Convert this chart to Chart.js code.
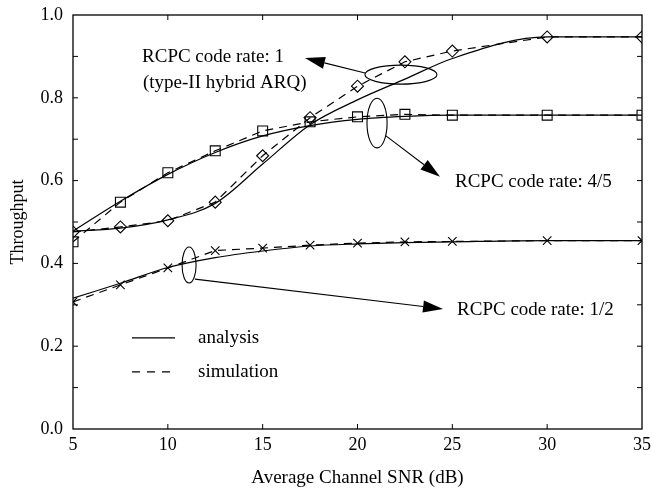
<!DOCTYPE html>
<html>
<head>
<meta charset="utf-8">
<script src="https://cdn.jsdelivr.net/npm/chart.js@4.4.1/dist/chart.umd.min.js"></script>
<style>
  html, body { margin: 0; padding: 0; background: #fff; }
  canvas { display: block; }
</style>
</head>
<body>
<canvas id="chart" width="652" height="489"></canvas>
<script>
// Average channel SNR (dB) at which throughput was evaluated
const snr = [5, 7.5, 10, 12.5, 15, 17.5, 20, 22.5, 25, 30, 35];

// RCPC code rate 1 (type-II hybrid ARQ)
const rate1Analysis   = [0.478, 0.485, 0.505, 0.545, 0.640, 0.735, 0.795, 0.845, 0.895, 0.947, 0.947];
const rate1Simulation = [0.476, 0.488, 0.503, 0.548, 0.660, 0.752, 0.828, 0.887, 0.913, 0.947, 0.947];

// RCPC code rate 4/5
const rate45Analysis   = [0.478, 0.550, 0.615, 0.668, 0.708, 0.733, 0.748, 0.755, 0.758, 0.758, 0.758];
const rate45Simulation = [0.452, 0.548, 0.619, 0.672, 0.720, 0.742, 0.754, 0.760, 0.758, 0.758, 0.758];

// RCPC code rate 1/2
const rate12Analysis   = [0.316, 0.352, 0.390, 0.414, 0.430, 0.442, 0.447, 0.450, 0.452, 0.455, 0.455];
const rate12Simulation = [0.307, 0.348, 0.389, 0.431, 0.437, 0.444, 0.449, 0.452, 0.453, 0.455, 0.455];

// Axis tick labels
const xTickLabels = ['5', '10', '15', '20', '25', '30', '35'];
const yTickLabels = ['0.0', '0.2', '0.4', '0.6', '0.8', '1.0'];

const SERIF = '"Liberation Serif", "Times New Roman", serif';
const INK = '#000';

const toPoints = (ys) => snr.map((x, i) => ({ x, y: ys[i] }));

function analysisSet(label, ys) {
  return {
    label, data: toPoints(ys),
    borderColor: INK, borderWidth: 1.2,
    pointRadius: 0, pointHoverRadius: 0,
    cubicInterpolationMode: 'monotone', fill: false
  };
}
function simulationSet(label, ys, style, radius) {
  return {
    label, data: toPoints(ys),
    borderColor: INK, borderWidth: 1.2, borderDash: [8, 6],
    tension: 0, fill: false,
    pointStyle: style, pointRadius: radius, pointHoverRadius: radius,
    pointBorderColor: INK, pointBorderWidth: 1.1,
    pointBackgroundColor: 'rgba(0,0,0,0)'
  };
}

// Call-outs, placed in data units (dB, throughput)
const callouts = {
  ellipses: [
    { x: 22.29, y: 0.856, rx: 1.90, ry: 0.023 },
    { x: 21.03, y: 0.739, rx: 0.53, ry: 0.060 },
    { x: 11.12, y: 0.396, rx: 0.37, ry: 0.0435 }
  ],
  arrows: [
    { from: [20.40, 0.860], to: [17.23, 0.896] },
    { from: [21.50, 0.708], to: [24.35, 0.609] },
    { from: [11.43, 0.362], to: [24.51, 0.290] }
  ],
  texts: [
    { x: 8.64, y: 0.899, text: 'RCPC code rate: 1' },
    { x: 8.69, y: 0.836, text: '(type-II hybrid ARQ)' },
    { x: 25.14, y: 0.597, text: 'RCPC code rate: 4/5' },
    { x: 25.25, y: 0.287, text: 'RCPC code rate: 1/2' }
  ],
  legend: [
    { x0: 8.11, x1: 10.38, tx: 11.59, y: 0.220, dash: [], text: 'analysis' },
    { x0: 8.11, x1: 10.38, tx: 11.59, y: 0.138, dash: [8, 7], text: 'simulation' }
  ]
};

const whiteBackground = {
  id: 'whiteBackground',
  beforeDraw(chart) {
    const { ctx } = chart;
    ctx.save();
    ctx.fillStyle = '#fff';
    ctx.fillRect(0, 0, chart.width, chart.height);
    ctx.restore();
  }
};

// Box frame with inward-pointing tick marks on all four sides
const frameTicks = {
  id: 'frameTicks',
  afterDatasetsDraw(chart) {
    const { ctx, chartArea: a, scales: { x, y } } = chart;
    ctx.save();
    ctx.strokeStyle = INK;
    ctx.lineWidth = 1.3;
    ctx.strokeRect(a.left, a.top, a.right - a.left, a.bottom - a.top);
    ctx.lineWidth = 1;
    ctx.beginPath();
    for (let k = 1; k < 10; k++) {
      const py = y.getPixelForValue(k / 10);
      ctx.moveTo(a.left, py); ctx.lineTo(a.left + 5, py);
      ctx.moveTo(a.right, py); ctx.lineTo(a.right - 5, py);
    }
    for (let v = 10; v < 35; v += 5) {
      const px = x.getPixelForValue(v);
      ctx.moveTo(px, a.bottom); ctx.lineTo(px, a.bottom - 5);
      ctx.moveTo(px, a.top); ctx.lineTo(px, a.top + 5);
    }
    ctx.stroke();
    ctx.restore();
  }
};

const annotations = {
  id: 'annotations',
  afterDatasetsDraw(chart) {
    const { ctx, scales: { x, y } } = chart;
    const X = (v) => x.getPixelForValue(v);
    const Y = (v) => y.getPixelForValue(v);
    const sx = X(1) - X(0);
    const sy = Y(0) - Y(1);
    ctx.save();
    ctx.strokeStyle = INK;
    ctx.fillStyle = INK;
    ctx.lineWidth = 1.1;

    callouts.ellipses.forEach((e) => {
      ctx.beginPath();
      ctx.ellipse(X(e.x), Y(e.y), e.rx * sx, e.ry * sy, 0, 0, Math.PI * 2);
      ctx.stroke();
    });

    callouts.arrows.forEach((ar) => {
      const x0 = X(ar.from[0]), y0 = Y(ar.from[1]);
      const x1 = X(ar.to[0]), y1 = Y(ar.to[1]);
      const ang = Math.atan2(y1 - y0, x1 - x0);
      const len = 20, half = 6;
      const bx = x1 - len * Math.cos(ang), by = y1 - len * Math.sin(ang);
      ctx.beginPath();
      ctx.moveTo(x0, y0); ctx.lineTo(bx, by);
      ctx.stroke();
      ctx.beginPath();
      ctx.moveTo(x1, y1);
      ctx.lineTo(bx + half * Math.sin(ang), by - half * Math.cos(ang));
      ctx.lineTo(bx - half * Math.sin(ang), by + half * Math.cos(ang));
      ctx.closePath();
      ctx.fill();
    });

    ctx.font = '19px ' + SERIF;
    ctx.textAlign = 'left';
    ctx.textBaseline = 'middle';
    callouts.texts.forEach((t) => ctx.fillText(t.text, X(t.x), Y(t.y)));

    callouts.legend.forEach((l) => {
      ctx.save();
      ctx.lineWidth = 1.2;
      ctx.setLineDash(l.dash);
      ctx.beginPath();
      ctx.moveTo(X(l.x0), Y(l.y)); ctx.lineTo(X(l.x1), Y(l.y));
      ctx.stroke();
      ctx.restore();
      ctx.fillText(l.text, X(l.tx), Y(l.y));
    });
    ctx.restore();
  }
};

new Chart(document.getElementById('chart'), {
  type: 'line',
  data: {
    datasets: [
      analysisSet('Rate 1 analysis', rate1Analysis),
      simulationSet('Rate 1 simulation', rate1Simulation, 'rectRot', 6),
      analysisSet('Rate 4/5 analysis', rate45Analysis),
      simulationSet('Rate 4/5 simulation', rate45Simulation, 'rect', 7),
      analysisSet('Rate 1/2 analysis', rate12Analysis),
      simulationSet('Rate 1/2 simulation', rate12Simulation, 'crossRot', 6)
    ]
  },
  options: {
    responsive: false,
    animation: false,
    events: [],
    layout: { padding: { top: 15, right: 10, left: 0, bottom: 0 } },
    plugins: { legend: { display: false }, tooltip: { enabled: false } },
    scales: {
      x: {
        type: 'linear', min: 5, max: 35,
        grid: { display: false, drawTicks: false },
        border: { display: false },
        afterFit(scale) {
          scale.height = 60;
          scale.paddingLeft = 0;
          scale.paddingRight = 0;
        },
        ticks: {
          stepSize: 5, autoSkip: false, maxRotation: 0, padding: 5,
          color: INK, font: { family: SERIF, size: 18 },
          callback: (v) => xTickLabels[Math.round((v - 5) / 5)] ?? ''
        },
        title: {
          display: true, text: 'Average Channel SNR (dB)', color: INK,
          font: { family: SERIF, size: 19 }, padding: { top: 0, bottom: 0 }
        }
      },
      y: {
        type: 'linear', min: 0, max: 1,
        grid: { display: false, drawTicks: false },
        border: { display: false },
        afterFit(scale) {
          scale.width = 73;
          scale.paddingTop = 0;
          scale.paddingBottom = 0;
        },
        ticks: {
          stepSize: 0.1, autoSkip: false, padding: 10,
          color: INK, font: { family: SERIF, size: 18 },
          callback: (v) => {
            const k = Math.round(v * 10);
            return k % 2 === 0 ? yTickLabels[k / 2] : '';
          }
        },
        title: {
          display: true, text: 'Throughput', color: INK,
          font: { family: SERIF, size: 18 }, padding: { top: 7, bottom: 0 }
        }
      }
    }
  },
  plugins: [whiteBackground, frameTicks, annotations]
});
</script>
</body>
</html>
